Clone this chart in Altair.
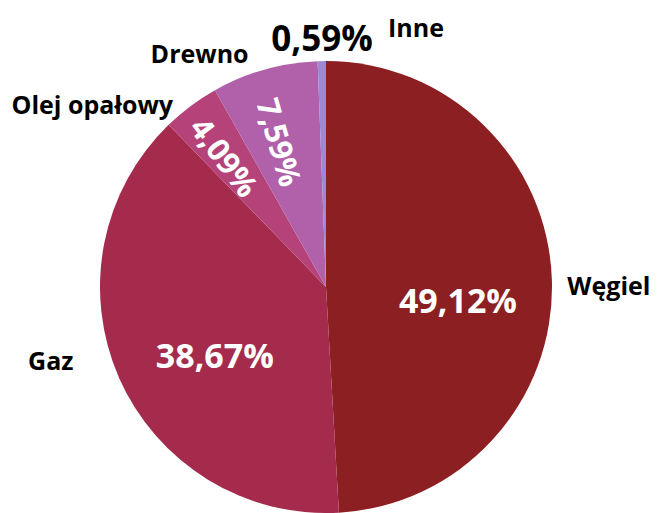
import altair as alt
import pandas as pd

categories = ["Węgiel", "Gaz", "Olej opałowy", "Drewno", "Inne"]
shares = [49.12, 38.67, 4.09, 7.59, 0.59]
pct_labels = ["49,12%", "38,67%", "4,09%", "7,59%", "0,59%"]
colors = ["#8C1F21", "#A52B4D", "#B5437A", "#B061AA", "#9A88D8"]

df = pd.DataFrame({
    "category": categories,
    "share": shares,
    "label": pct_labels,
    "idx": list(range(len(categories))),
})

CX, CY = 318, 279
FONT = "Open Sans"

base = alt.Chart(df).encode(
    theta=alt.Theta("share:Q", stack=True),
    order=alt.Order("idx:Q"),
)

pie = base.mark_arc(x=CX, y=CY, outerRadius=226).encode(
    color=alt.Color("category:N", scale=alt.Scale(domain=categories, range=colors), legend=None)
)


def txt(cat, field, radius, size, color, dx=0, dy=0, angle=0):
    kw = dict(x=CX, y=CY, radius=radius, fontSize=size, fontWeight="bold",
              font=FONT, color=color, align="center", baseline="middle", dx=dx, dy=dy)
    if angle:
        kw["angle"] = angle
    return base.mark_text(**kw).encode(
        text=alt.condition(alt.datum.category == cat, alt.Text(f"{field}:N"), alt.value(""))
    )


layers = [
    pie,
    txt("Węgiel", "label", 140, 34, "white", dx=-8, dy=20),
    txt("Gaz", "label", 140, 34, "white", dx=17, dy=15),
    txt("Olej opałowy", "label", 165, 31, "white", dy=6, angle=53),
    txt("Drewno", "label", 152, 31, "white", dy=8, angle=74),
    txt("Inne", "label", 270, 35, "black", dx=1, dy=23),
    txt("Węgiel", "category", 270, 25, "black", dx=13, dy=8),
    txt("Gaz", "category", 270, 25, "black", dx=-28, dy=-34),
    txt("Olej opałowy", "category", 270, 25, "black", dx=-72, dy=35),
    txt("Drewno", "category", 270, 25, "black", dx=-53, dy=28),
    txt("Inne", "category", 270, 25, "black", dx=95, dy=12),
]

chart = alt.layer(*layers).properties(
    width=646, height=505, padding=0,
    autosize=alt.AutoSizeParams(type="none"),
).configure_view(stroke=None)

chart.save("out.html", embed_options={"renderer": "svg", "actions": False})
